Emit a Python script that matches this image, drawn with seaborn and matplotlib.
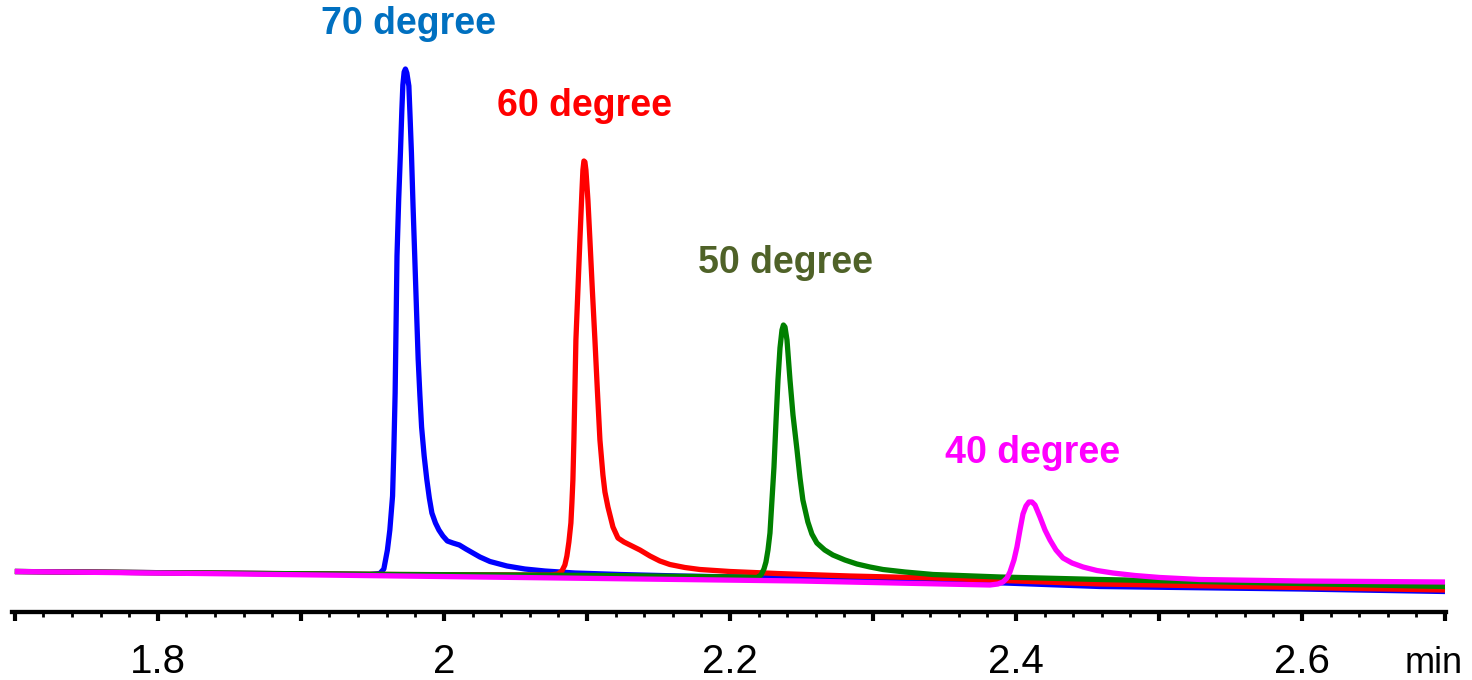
import numpy as np
import pandas as pd
import matplotlib
matplotlib.use("Agg")
import matplotlib.pyplot as plt
import seaborn as sns
from matplotlib.ticker import MultipleLocator, FuncFormatter

# chromatogram traces (time in min, signal in arbitrary units)
time_70 = [1.700, 1.8294, 1.9483, 1.9552, 1.9580, 1.9605, 1.9622, 1.9641, 1.9650, 1.9659,
           1.9666, 1.9672, 1.9684, 1.9696, 1.9706, 1.9713, 1.9722, 1.9731, 1.9741, 1.9755,
           1.9763, 1.9773, 1.9784, 1.9796, 1.9808, 1.9820, 1.9832, 1.9844, 1.9862, 1.9880,
           1.9898, 1.9916, 1.9941, 1.9965, 1.9993, 2.0024, 2.0063, 2.0108, 2.0154, 2.0203,
           2.0252, 2.0322, 2.0441, 2.0566, 2.0706, 2.0916, 2.1231, 2.1650, 2.2490, 2.3538,
           2.4587, 2.5986, 2.7000]
signal_70 = [3.5, 2, 0.5, 1.5, 6, 25, 45, 79, 125, 182,
             255, 319, 376, 422, 465, 490, 503, 506, 502, 489,
             460, 422, 370, 319, 267, 216, 180, 148, 119, 96,
             77, 62, 52, 45, 39, 34, 32, 30, 26, 22,
             18, 13.5, 9, 6, 4, 2, 0.5, -1, -3, -6,
             -11.5, -14, -16.5]

time_60 = [1.700, 1.8294, 1.9692, 2.0741, 2.0797, 2.0825, 2.0846, 2.0860, 2.0874, 2.0888,
           2.0895, 2.0902, 2.0909, 2.0916, 2.0923, 2.0937, 2.0951, 2.0965, 2.0972, 2.0979,
           2.0986, 2.0993, 2.1007, 2.1021, 2.1038, 2.1056, 2.1073, 2.1091, 2.1112, 2.1126,
           2.1147, 2.1182, 2.1217, 2.1259, 2.1301, 2.1371, 2.1441, 2.1510, 2.1580, 2.1685,
           2.1790, 2.2000, 2.2329, 2.2839, 2.3420, 2.4587, 2.5986, 2.7000]
signal_60 = [3.5, 2, 0.5, 0, 1, 4, 10, 19, 33, 52,
             72, 95, 135, 185, 235, 285, 335, 383, 405, 414,
             413, 405, 375, 335, 285, 235, 185, 135, 100, 83,
             68, 48, 37, 33, 30, 25, 19, 14, 10.5, 7.5,
             5.5, 3.5, 1.5, -1, -3, -9, -12.5, -15]

time_50 = [1.700, 1.8294, 1.9692, 2.1091, 2.2070, 2.2189, 2.2217, 2.2238, 2.2252, 2.2266,
           2.2280, 2.2294, 2.2308, 2.2322, 2.2336, 2.2350, 2.2364, 2.2374, 2.2385, 2.2399,
           2.2420, 2.2441, 2.2469, 2.2490, 2.2510, 2.2545, 2.2573, 2.2608, 2.2663, 2.2720,
           2.2804, 2.2888, 2.2979, 2.3070, 2.3224, 2.3420, 2.3888, 2.4587, 2.5986, 2.7000]
signal_50 = [3.5, 2, 0.5, -0.5, -2, -2.5, 0, 6, 13, 25,
             42, 75, 108, 153, 195, 227, 245, 250, 248, 235,
             195, 160, 125, 97, 75, 53, 41, 32, 25, 20,
             15, 11, 8, 5.5, 3, 0.5, -2, -4.5, -8.5, -11.5]

time_40 = [1.700, 1.8294, 1.9692, 2.1091, 2.2490, 2.3818, 2.3874, 2.3909, 2.3937, 2.3958,
           2.3986, 2.4007, 2.4028, 2.4049, 2.4070, 2.4091, 2.4112, 2.4133, 2.4168, 2.4203,
           2.4238, 2.4280, 2.4329, 2.4392, 2.4469, 2.4566, 2.4678, 2.4832, 2.5007, 2.5287,
           2.5986, 2.7000]
signal_40 = [3.5, 1.5, -1, -3.5, -6, -10, -9, -7, -3, 3,
             15, 28, 45, 61, 69, 73, 73, 70, 58, 45,
             35, 25, 17, 12, 8, 4.5, 2, -0.5, -2.5, -4.5,
             -6, -7]

series_names = ["70 degree", "60 degree", "50 degree", "40 degree"]
line_colors = ["#0000FF", "#FF0000", "#008000", "#FF00FF"]
label_colors = ["#0070C0", "#FF0000", "#4F6228", "#FF00FF"]
label_time = [1.9752, 2.0986, 2.2392, 2.4119]
label_signal = [541, 459, 302, 112]

tick_values = [1.8, 2.0, 2.2, 2.4, 2.6]
tick_labels = ["1.8", "2", "2.2", "2.4", "2.6"]

frames = []
for name, t, s in zip(series_names,
                      [time_70, time_60, time_50, time_40],
                      [signal_70, signal_60, signal_50, signal_40]):
    frames.append(pd.DataFrame({"time": t, "signal": s, "temp": name}))
df = pd.concat(frames, ignore_index=True)

sns.set_style("white")
plt.rcParams["font.family"] = ["Liberation Sans", "DejaVu Sans"]

fig = plt.figure(figsize=(14.72, 6.8), dpi=100)
ax = fig.add_axes([12 / 1472, 68 / 680, 1434 / 1472, 612 / 680])

sns.lineplot(data=df, x="time", y="signal", hue="temp", hue_order=series_names,
             palette=dict(zip(series_names, line_colors)), estimator=None, sort=False,
             legend=False, linewidth=3.8, ax=ax,
             solid_joinstyle="round", solid_capstyle="butt")

for name, c, tx, ty in zip(series_names, label_colors, label_time, label_signal):
    ax.text(tx, ty, name, color=c, fontsize=27, fontweight="bold",
            ha="center", va="baseline")

ax.set_xlim(1.698, 2.7007)
ax.set_ylim(-37, 575)

# axis: only the bottom line with ticks
for side in ["left", "top", "right"]:
    ax.spines[side].set_visible(False)
ax.spines["bottom"].set_linewidth(3.1)
ax.spines["bottom"].set_color("black")
ax.set_yticks([])
ax.set_xlabel("")
ax.set_ylabel("")

label_map = dict(zip(tick_values, tick_labels))
ax.xaxis.set_major_locator(MultipleLocator(0.1))
ax.xaxis.set_minor_locator(MultipleLocator(0.02))
ax.xaxis.set_major_formatter(FuncFormatter(lambda v, pos: label_map.get(round(v, 1), "")))
ax.tick_params(axis="x", which="major", direction="out", length=6.5, width=3,
               color="black", pad=16, labelsize=29, labelcolor="black", bottom=True)
ax.tick_params(axis="x", which="minor", direction="out", length=3.4, width=2,
               color="black", bottom=True)

ax.annotate("min", xy=(2.692, 0), xycoords=("data", "axes fraction"),
            xytext=(0, -44), textcoords="offset points",
            ha="center", va="baseline", fontsize=26, color="black")

fig.savefig("out.png", dpi=100)
